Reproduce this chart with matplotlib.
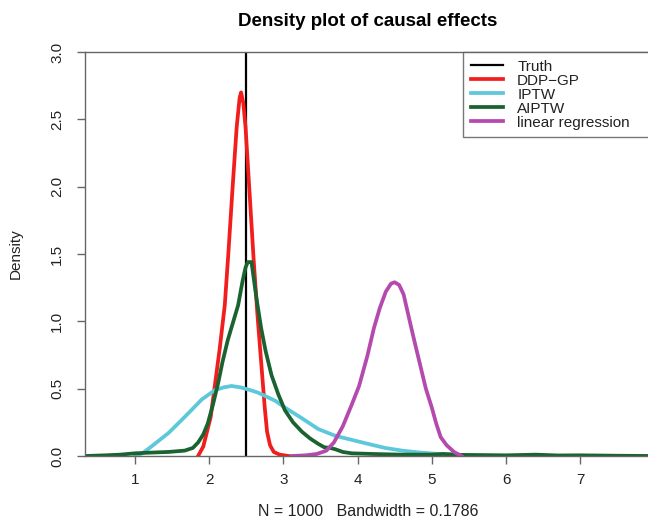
import numpy as np
import matplotlib
matplotlib.use("Agg")
import matplotlib.pyplot as plt

plt.rcParams['font.family'] = ['Liberation Sans', 'DejaVu Sans']

#%%
# values
truth = 2.5

ddp_x = [1.85, 1.92, 2.02, 2.08, 2.14, 2.21, 2.26, 2.31, 2.37, 2.41, 2.43, 2.46, 2.49,
         2.55, 2.60, 2.65, 2.70, 2.75, 2.78, 2.82, 2.87, 2.95, 3.07]
ddp_y = [0.0, 0.07, 0.29, 0.54, 0.79, 1.12, 1.52, 1.95, 2.44, 2.66, 2.70, 2.62, 2.44,
         1.90, 1.45, 1.05, 0.70, 0.35, 0.18, 0.08, 0.03, 0.01, 0.0]

iptw_x = [1.00, 1.10, 1.22, 1.45, 1.67, 1.90, 2.08, 2.20, 2.30, 2.42, 2.55, 2.66, 2.89,
          3.02, 3.25, 3.47, 3.70, 3.92, 4.14, 4.37, 4.60, 4.85, 5.10, 5.40, 5.80, 6.20]
iptw_y = [0.0, 0.02, 0.07, 0.17, 0.29, 0.42, 0.49, 0.51, 0.52, 0.51, 0.49, 0.47, 0.41,
          0.36, 0.28, 0.20, 0.15, 0.12, 0.09, 0.06, 0.04, 0.025, 0.015, 0.007, 0.002, 0.0]

aiptw_x = [0.33, 0.60, 0.80, 1.00, 1.20, 1.45, 1.67, 1.78, 1.85, 1.92, 1.98, 2.05, 2.12,
           2.18, 2.25, 2.32, 2.39, 2.45, 2.49, 2.52, 2.57, 2.60, 2.64, 2.70, 2.76, 2.84,
           2.93, 3.02, 3.13, 3.25, 3.36, 3.47, 3.55, 3.63, 3.70, 3.80, 3.92, 4.20, 4.60,
           5.00, 5.15, 5.40, 6.00, 6.40, 6.70, 7.00, 7.50, 8.00]
aiptw_y = [0.0, 0.005, 0.01, 0.02, 0.025, 0.03, 0.04, 0.06, 0.10, 0.16, 0.24, 0.38, 0.54,
           0.70, 0.86, 0.99, 1.12, 1.30, 1.40, 1.44, 1.44, 1.32, 1.16, 0.95, 0.78, 0.60,
           0.46, 0.34, 0.25, 0.18, 0.13, 0.09, 0.065, 0.06, 0.05, 0.03, 0.02, 0.015, 0.01,
           0.01, 0.015, 0.008, 0.005, 0.01, 0.004, 0.005, 0.002, 0.0]

lr_x = [3.11, 3.30, 3.45, 3.58, 3.68, 3.80, 3.92, 4.02, 4.13, 4.22, 4.30, 4.38, 4.45,
        4.50, 4.56, 4.62, 4.67, 4.72, 4.78, 4.85, 4.92, 5.00, 5.06, 5.12, 5.20, 5.30, 5.40]
lr_y = [0.0, 0.005, 0.015, 0.04, 0.10, 0.22, 0.38, 0.52, 0.74, 0.95, 1.10, 1.22, 1.28,
        1.29, 1.27, 1.20, 1.08, 0.96, 0.82, 0.66, 0.50, 0.36, 0.24, 0.14, 0.08, 0.03, 0.0]

xticks = [1, 2, 3, 4, 5, 6, 7]
yticks = [0.0, 0.5, 1.0, 1.5, 2.0, 2.5, 3.0]

#%%
fig = plt.figure(figsize=(6.48, 5.18), dpi=100)
ax = fig.add_axes([85/648, 62/518, 570/648, 404/518])

ax.axvline(truth, color='black', lw=1.6, label='Truth')
ax.plot(ddp_x, ddp_y, color='#f21d1d', lw=2.7, label='DDP\u2212GP')
ax.plot(iptw_x, iptw_y, color='#5dc7db', lw=2.7, label='IPTW')
ax.plot(aiptw_x, aiptw_y, color='#1a6330', lw=2.7, label='AIPTW')
ax.plot(lr_x, lr_y, color='#b44aad', lw=2.7, label='linear regression')

ax.set_xlim(1 + (85 - 135) / 74.2, 1 + (655 - 135) / 74.2)
ax.set_ylim(0, 3.0)
ax.set_xticks(xticks)
ax.set_yticks(yticks)
ax.set_yticklabels(['%.1f' % v for v in yticks], rotation=90, va='center')

for s in ['left', 'bottom', 'top']:
    ax.spines[s].set_color('#666666')
    ax.spines[s].set_linewidth(1.0)
ax.spines['right'].set_visible(False)
ax.tick_params(axis='both', colors='#666666', labelcolor='#222222', length=6,
               width=1.0, labelsize=11)
ax.tick_params(axis='x', pad=6)
ax.tick_params(axis='y', pad=9)

ax.set_ylabel('Density', fontsize=11, color='#222222')
ax.yaxis.set_label_coords(-0.11, 0.5)

fig.text(368/648, 1 - 21/518, 'Density plot of causal effects', ha='center', va='center',
         fontsize=13.5, fontweight='bold')
fig.text(368/648, 1 - 511/518, 'N = 1000   Bandwidth = 0.1786', ha='center', va='center',
         fontsize=11.5, color='#222222')

# R style legend box, running off the right edge like the original
x0 = (463 - 85) / 570
leg = ax.legend(loc='upper left', bbox_to_anchor=(x0, 0.0, 1.02 - x0, 1.0), mode='expand',
                borderaxespad=0, fontsize=11, frameon=True, fancybox=False,
                handlelength=2.1, labelspacing=0.0, borderpad=0.5, handletextpad=0.95)
leg.get_frame().set_edgecolor('#555555')
leg.get_frame().set_linewidth(1.0)
for t in leg.get_texts():
    t.set_color('#222222')

plt.savefig('out.png', dpi=100)
